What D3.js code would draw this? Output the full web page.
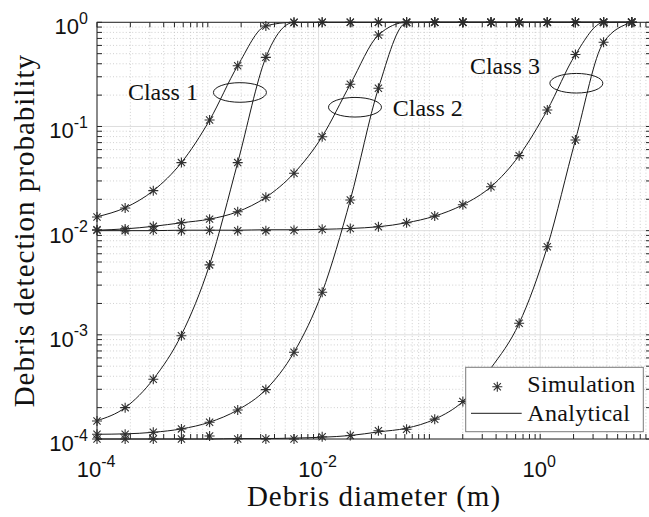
<!DOCTYPE html>
<html>
<head>
<meta charset="utf-8">
<script src="https://cdn.jsdelivr.net/npm/d3@7"></script>
<style>
  html, body { margin: 0; padding: 0; background: #fff; }
  svg { display: block; }
</style>
</head>
<body>
<svg id="chart" width="649" height="517"></svg>
<script>
// Debris diameters (m) at which detection probability was evaluated
const diameters = [1.000e-4, 1.795e-4, 3.221e-4, 5.781e-4, 1.038e-3, 1.862e-3, 3.342e-3, 5.998e-3,
  1.077e-2, 1.932e-2, 3.467e-2, 6.223e-2, 0.1117, 0.2004, 0.3597, 0.6457, 1.159, 2.080, 3.733, 6.699];

// Simulated detection probabilities (markers)
const simClass1High = [0.0135, 0.0165, 0.0242, 0.0450, 0.1154, 0.383, 0.922, 1, 1, 1, 1, 1, 1, 1, 1, 1, 1, 1, 1, 1];
const simClass1Low  = [1.49e-4, 2.0e-4, 3.75e-4, 9.8e-4, 4.69e-3, 0.045, 0.461, 0.997, 1, 1, 1, 1, 1, 1, 1, 1, 1, 1, 1, 1];
const simClass2High = [0.0102, 0.0104, 0.0110, 0.0119, 0.0129, 0.0152, 0.0209, 0.0356, 0.0798, 0.254, 0.755, 1, 1, 1, 1, 1, 1, 1, 1, 1];
const simClass2Low  = [1.11e-4, 1.11e-4, 1.16e-4, 1.25e-4, 1.45e-4, 1.90e-4, 2.98e-4, 6.8e-4, 2.56e-3, 0.0197, 0.233, 0.99, 1, 1, 1, 1, 1, 1, 1, 1];
const simClass3High = [0.0101, 0.0100, 0.0101, 0.0100, 0.0101, 0.0100, 0.0100, 0.0101, 0.0103, 0.0105, 0.0109, 0.0119, 0.0138, 0.0177, 0.0264, 0.0525, 0.144, 0.49, 0.995, 1];
const simClass3Low  = [1.0e-4, 1.0e-4, 1.0e-4, 1.0e-4, 1.07e-4, 1.0e-4, 1.0e-4, 1.0e-4, 1.05e-4, 1.08e-4, 1.2e-4, 1.24e-4, 1.55e-4, 2.29e-4, 4.2e-4, 1.29e-3, 7.0e-3, 0.0742, 0.643, 1];

// Analytical detection probabilities (lines)
const anaClass1High = [0.0136, 0.0166, 0.0242, 0.0450, 0.115, 0.383, 0.925, 1, 1, 1, 1, 1, 1, 1, 1, 1, 1, 1, 1, 1];
const anaClass1Low  = [1.5e-4, 2.0e-4, 3.75e-4, 1.0e-3, 4.7e-3, 0.045, 0.46, 0.998, 1, 1, 1, 1, 1, 1, 1, 1, 1, 1, 1, 1];
const anaClass2High = [0.0101, 0.0104, 0.0110, 0.0119, 0.0129, 0.0152, 0.0209, 0.0356, 0.080, 0.254, 0.755, 1, 1, 1, 1, 1, 1, 1, 1, 1];
const anaClass2Low  = [1.11e-4, 1.12e-4, 1.16e-4, 1.25e-4, 1.45e-4, 1.90e-4, 2.98e-4, 6.8e-4, 2.56e-3, 0.0197, 0.233, 0.99, 1, 1, 1, 1, 1, 1, 1, 1];
const anaClass3High = [0.0100, 0.0100, 0.0100, 0.0101, 0.0101, 0.0101, 0.0102, 0.0102, 0.0103, 0.0105, 0.0109, 0.0119, 0.0138, 0.0177, 0.0264, 0.0525, 0.144, 0.49, 0.995, 1];
const anaClass3Low  = [1.0e-4, 1.0e-4, 1.0e-4, 1.0e-4, 1.0e-4, 1.01e-4, 1.01e-4, 1.02e-4, 1.04e-4, 1.08e-4, 1.17e-4, 1.27e-4, 1.55e-4, 2.29e-4, 4.8e-4, 1.29e-3, 7.0e-3, 0.0742, 0.643, 1];

const simSeries = [simClass1High, simClass1Low, simClass2High, simClass2Low, simClass3High, simClass3Low];
const anaSeries = [anaClass1High, anaClass1Low, anaClass2High, anaClass2Low, anaClass3High, anaClass3Low];

// Tick labels (exponents of ten)
const xTickExponents = [-4, -2, 0];
const yTickExponents = [-4, -3, -2, -1, 0];

// Class annotations: ellipse centre and label start, in (diameter, probability)
const classNames = ["Class 1", "Class 2", "Class 3"];
const classEllipseAt = [[1.95e-3, 0.212], [2.13e-2, 0.153], [2.12, 0.26]];
const classLabelAt = [[1.9e-4, 0.18], [4.67e-2, 0.126], [0.232, 0.319]];

const legendNames = ["Simulation", "Analytical"];

// ---------- layout ----------
const svg = d3.select("#chart");
const plot = { left: 97, right: 651, top: 22.3, bottom: 439 };
const ink = "#262626";

const x = d3.scaleLog().domain([1e-4, 10]).range([plot.left, plot.right]);
const y = d3.scaleLog().domain([1e-4, 1]).range([plot.bottom, plot.top]);

// minor positions (2..9 of each decade) and decades
function minorValues(lo, hi) {
  const out = [];
  for (let e = lo; e < hi; e++) for (let m = 2; m <= 9; m++) out.push(m * Math.pow(10, e));
  return out;
}
const xDecades = d3.range(-4, 2).map(e => Math.pow(10, e));
const xMajor = xTickExponents.map(e => Math.pow(10, e));
const xMinor = minorValues(-4, 1).concat(xDecades.filter(v => !xMajor.includes(v)));
const yMajor = yTickExponents.map(e => Math.pow(10, e));
const yMinor = minorValues(-4, 0);

// ---------- grid ----------
const grid = svg.append("g");
grid.selectAll(".xminor").data(xMinor).join("line")
  .attr("x1", d => x(d)).attr("x2", d => x(d)).attr("y1", plot.top).attr("y2", plot.bottom)
  .attr("stroke", "#c4c4c4").attr("stroke-width", 0.8).attr("stroke-dasharray", "1,2.2");
grid.selectAll(".yminor").data(yMinor).join("line")
  .attr("y1", d => y(d)).attr("y2", d => y(d)).attr("x1", plot.left).attr("x2", plot.right)
  .attr("stroke", "#c4c4c4").attr("stroke-width", 0.8).attr("stroke-dasharray", "1,2.2");
grid.selectAll(".xmajor").data(xMajor).join("line")
  .attr("x1", d => x(d)).attr("x2", d => x(d)).attr("y1", plot.top).attr("y2", plot.bottom)
  .attr("stroke", "#dedede").attr("stroke-width", 1);
grid.selectAll(".ymajor").data(yMajor).join("line")
  .attr("y1", d => y(d)).attr("y2", d => y(d)).attr("x1", plot.left).attr("x2", plot.right)
  .attr("stroke", "#dedede").attr("stroke-width", 1);

// ---------- analytical lines ----------
const line = d3.line()
  .x(d => x(d[0])).y(d => y(d[1]))
  .curve(d3.curveMonotoneX);
svg.append("g").selectAll("path").data(anaSeries).join("path")
  .attr("d", s => line(diameters.map((d, i) => [d, s[i]])))
  .attr("fill", "none").attr("stroke", "#1a1a1a").attr("stroke-width", 1);

// ---------- simulation markers (asterisks) ----------
function asterisk(g, cx, cy, r) {
  const k = r * 0.72;
  const p = `M${cx - r},${cy}H${cx + r}M${cx},${cy - r}V${cy + r}` +
            `M${cx - k},${cy - k}L${cx + k},${cy + k}M${cx - k},${cy + k}L${cx + k},${cy - k}`;
  g.append("path").attr("d", p).attr("stroke", "#303030").attr("stroke-width", 1.1).attr("fill", "none");
}
const markers = svg.append("g");
simSeries.forEach(s => s.forEach((v, i) => asterisk(markers, x(diameters[i]), y(v), 5)));

// ---------- axes box and ticks ----------
const axes = svg.append("g").attr("stroke", ink).attr("stroke-width", 1);
axes.append("rect")
  .attr("x", plot.left).attr("y", plot.top)
  .attr("width", plot.right - plot.left).attr("height", plot.bottom - plot.top)
  .attr("fill", "none");
const tl = 5;
const xTicks = xMajor.concat(xMinor);
const yTicks = yMajor.concat(yMinor);
xTicks.forEach(v => {
  axes.append("line").attr("x1", x(v)).attr("x2", x(v)).attr("y1", plot.bottom).attr("y2", plot.bottom - tl);
  axes.append("line").attr("x1", x(v)).attr("x2", x(v)).attr("y1", plot.top).attr("y2", plot.top + tl);
});
yTicks.forEach(v => {
  axes.append("line").attr("y1", y(v)).attr("y2", y(v)).attr("x1", plot.left).attr("x2", plot.left + tl);
  axes.append("line").attr("y1", y(v)).attr("y2", y(v)).attr("x1", plot.right).attr("x2", plot.right - tl);
});

// ---------- tick labels ----------
const tickFont = "'Liberation Sans', Arial, Helvetica, sans-serif";
function powerLabel(g, px, py, exp, anchor) {
  const t = g.append("text").attr("x", px).attr("y", py)
    .attr("text-anchor", anchor).attr("font-family", tickFont).attr("fill", "#111");
  t.append("tspan").attr("font-size", 22).text("10");
  t.append("tspan").attr("font-size", 16).attr("dy", -10.5).text(String(exp));
}
const labels = svg.append("g");
xTickExponents.forEach(e => powerLabel(labels, x(Math.pow(10, e)) - 1, 477, e, "middle"));
yTickExponents.forEach(e => powerLabel(labels, 88, y(Math.pow(10, e)) + 12, e, "end"));

// ---------- axis titles ----------
const serif = "'Liberation Serif', 'Times New Roman', serif";
svg.append("text")
  .attr("x", (plot.left + plot.right) / 2).attr("y", 506)
  .attr("text-anchor", "middle").attr("font-family", serif).attr("font-size", 29)
  .attr("letter-spacing", 1).attr("fill", "#111")
  .text("Debris diameter (m)");
svg.append("text")
  .attr("transform", `translate(34,${(plot.top + plot.bottom) / 2}) rotate(-90)`)
  .attr("text-anchor", "middle").attr("font-family", serif).attr("font-size", 29)
  .attr("letter-spacing", 1).attr("fill", "#111")
  .text("Debris detection probability");

// ---------- class annotations ----------
const ann = svg.append("g");
classNames.forEach((name, i) => {
  const [ex, ey] = classEllipseAt[i];
  ann.append("ellipse")
    .attr("cx", x(ex)).attr("cy", y(ey)).attr("rx", 26.5).attr("ry", 9.8)
    .attr("fill", "none").attr("stroke", "#1a1a1a").attr("stroke-width", 1);
  const [lx, ly] = classLabelAt[i];
  ann.append("text")
    .attr("x", x(lx)).attr("y", y(ly))
    .attr("font-family", serif).attr("font-size", 24).attr("fill", "#111")
    .text(name);
});

// ---------- legend ----------
const lg = svg.append("g");
lg.append("rect")
  .attr("x", 465.7).attr("y", 367.3).attr("width", 177.6).attr("height", 64.4)
  .attr("fill", "#fff").attr("stroke", "#7a7a7a").attr("stroke-width", 1);
asterisk(lg, 497.3, 386.7, 5);
lg.append("line").attr("x1", 471).attr("x2", 521.7).attr("y1", 413.3).attr("y2", 413.3)
  .attr("stroke", "#1a1a1a").attr("stroke-width", 1);
legendNames.forEach((n, i) => {
  lg.append("text").attr("x", 527.3).attr("y", 391.7 + i * 29.3)
    .attr("font-family", serif).attr("font-size", 24).attr("letter-spacing", 0.3).attr("fill", "#111")
    .text(n);
});
</script>
</body>
</html>
